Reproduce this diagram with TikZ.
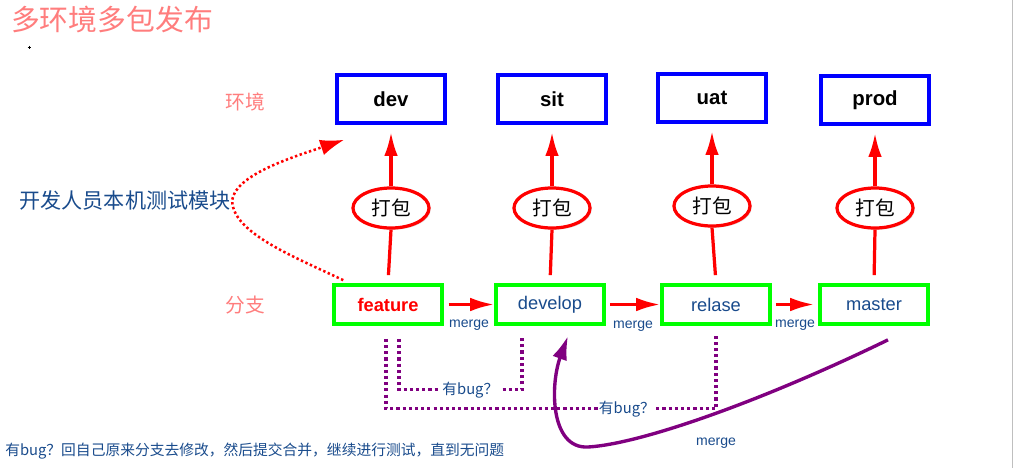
\documentclass[tikz,border=0pt]{standalone}
\usepackage{fontspec}
\setmainfont{Liberation Sans}
\newfontfamily\cjk{Noto Sans CJK SC}
\usetikzlibrary{arrows.meta,shapes.geometric,shadows}
\definecolor{titlepink}{RGB}{255,125,125}
\definecolor{textblue}{RGB}{25,75,140}
\definecolor{bugpurple}{RGB}{128,0,128}

\begin{document}
\begin{tikzpicture}[x=0.025cm,y=-0.025cm,
  envbox/.style={draw=blue,line width=2.5pt,fill=white,minimum width=2.7cm,minimum height=1.2cm,
    drop shadow={opacity=0.25,shadow xshift=1.2pt,shadow yshift=-1.2pt},font=\fontsize{14.5}{17}\selectfont\bfseries},
  branchbox/.style={draw=green,line width=2.5pt,fill=white,minimum width=2.7cm,minimum height=0.98cm,
    drop shadow={opacity=0.25,shadow xshift=1.2pt,shadow yshift=-1.2pt},text=textblue,font=\fontsize{13}{15}\selectfont},
  packnode/.style={ellipse,draw=red,line width=2.3pt,fill=white,minimum width=1.9cm,minimum height=1cm,
    inner sep=0pt,drop shadow={opacity=0.25,shadow xshift=1.2pt,shadow yshift=-1.2pt},font=\cjk\fontsize{14}{16}\selectfont},
  redarrow/.style={draw=red,line width=2.3pt,-{Latex[length=0.6cm,width=0.34cm]}},
  mergelbl/.style={text=textblue,font=\fontsize{10}{12}\selectfont,inner sep=1pt},
  buglbl/.style={fill=white,text=textblue,font=\cjk\fontsize{10.5}{12}\selectfont,inner sep=1pt},
  bugline/.style={draw=bugpurple,line width=2.3pt,dash pattern=on 2.2pt off 2.2pt},
  reddots/.style={draw=red,line width=1.8pt,dash pattern=on 1.7pt off 1.8pt},
  sidelbl/.style={text=titlepink,font=\cjk\fontsize{14}{16}\selectfont}]
\useasboundingbox (0,0) rectangle (1013,468);
\draw[gray!50,line width=0.6pt] (1012,0) -- (1012,468);
\draw[line width=0.5pt] (27.5,47) -- (30.5,47) (29,45.5) -- (29,48.5);

\node[text=titlepink,font=\cjk\fontsize{20.5}{24}\selectfont] (title) at (112,19) {多环境多包发布};
\node[sidelbl] (envlbl) at (245,102) {环境};
\node[sidelbl] (branchlbl) at (245,305) {分支};
\node[text=textblue,font=\cjk\fontsize{15}{18}\selectfont,inner sep=1pt] (tester) at (125,200) {开发人员本机测试模块};
\node[text=textblue,font=\cjk\fontsize{10.5}{12}\selectfont,anchor=west,inner sep=0pt] (note) at (5,451)
  {有bug？回自己原来分支去修改，然后提交合并，继续进行测试，直到无问题};

\node[envbox] (dev) at (391,99) {dev};
\node[envbox] (sit) at (552,99) {sit};
\node[envbox] (uat) at (712,98) {uat};
\node[envbox] (prod) at (875,100) {prod};

\node[packnode] (pdev) at (391,208) {打包};
\node[packnode] (psit) at (552,208) {打包};
\node[packnode] (puat) at (712,206) {打包};
\node[packnode] (pprod) at (875,208) {打包};

\node[branchbox,text=red,font=\fontsize{13}{15}\selectfont\bfseries] (feature) at (388,304.5) {feature};
\node[branchbox] (develop) at (550,304.5) {develop};
\node[branchbox] (relase) at (716,304.5) {relase};
\node[branchbox] (master) at (874,304.5) {master};

\foreach \b/\p/\e in {feature/pdev/dev,develop/psit/sit,relase/puat/uat,master/pprod/prod}{
  \draw[draw=red,line width=2.3pt,shorten <=0.2cm] (\b.north) -- (\p.south);
  \draw[redarrow,shorten >=0.18cm] (\p.north) -- (\e.south);
}

\draw[redarrow,shorten <=0.12cm] (feature) -- (develop) node[mergelbl,midway,yshift=-0.52cm] {merge};
\draw[redarrow,shorten <=0.1cm] (develop) -- (relase) node[mergelbl,midway,yshift=-0.55cm] {merge};
\draw[redarrow,shorten <=0.1cm,shorten >=0.1cm] (relase) -- (master) node[mergelbl,midway,yshift=-0.52cm] {merge};

\draw[reddots,-{Latex[length=0.6cm,width=0.4cm]}] ([shift={(11,-3)}]feature.north west)
  .. controls (290,255) and (232,232) .. (tester.east)
  .. controls (236,175) and (290,158) .. ([shift={(9,15)}]dev.south west);

\draw[bugline] ([shift={(-2,13)}]feature.south) -- ++(0,70)
  -| node[buglbl,pos=0.365] {有bug？} ([shift={(0,10)}]relase.south);
\draw[bugline] ([shift={(11,13)}]feature.south) -- ++(0,51)
  -| node[buglbl,pos=0.29] {有bug？} ([shift={(-28,11)}]develop.south);

\draw[draw=bugpurple,line width=2.4pt,-{Latex[length=0.6cm,width=0.38cm]}] ([shift={(14,14)}]master.south)
  .. controls (760,402) and (640,444) .. (588,447)
  .. controls (550,449) and (550,385) .. ([shift={(18,10)}]develop.south);
\node[mergelbl] (mergeback) at (716,443) {merge};
\end{tikzpicture}
\end{document}
